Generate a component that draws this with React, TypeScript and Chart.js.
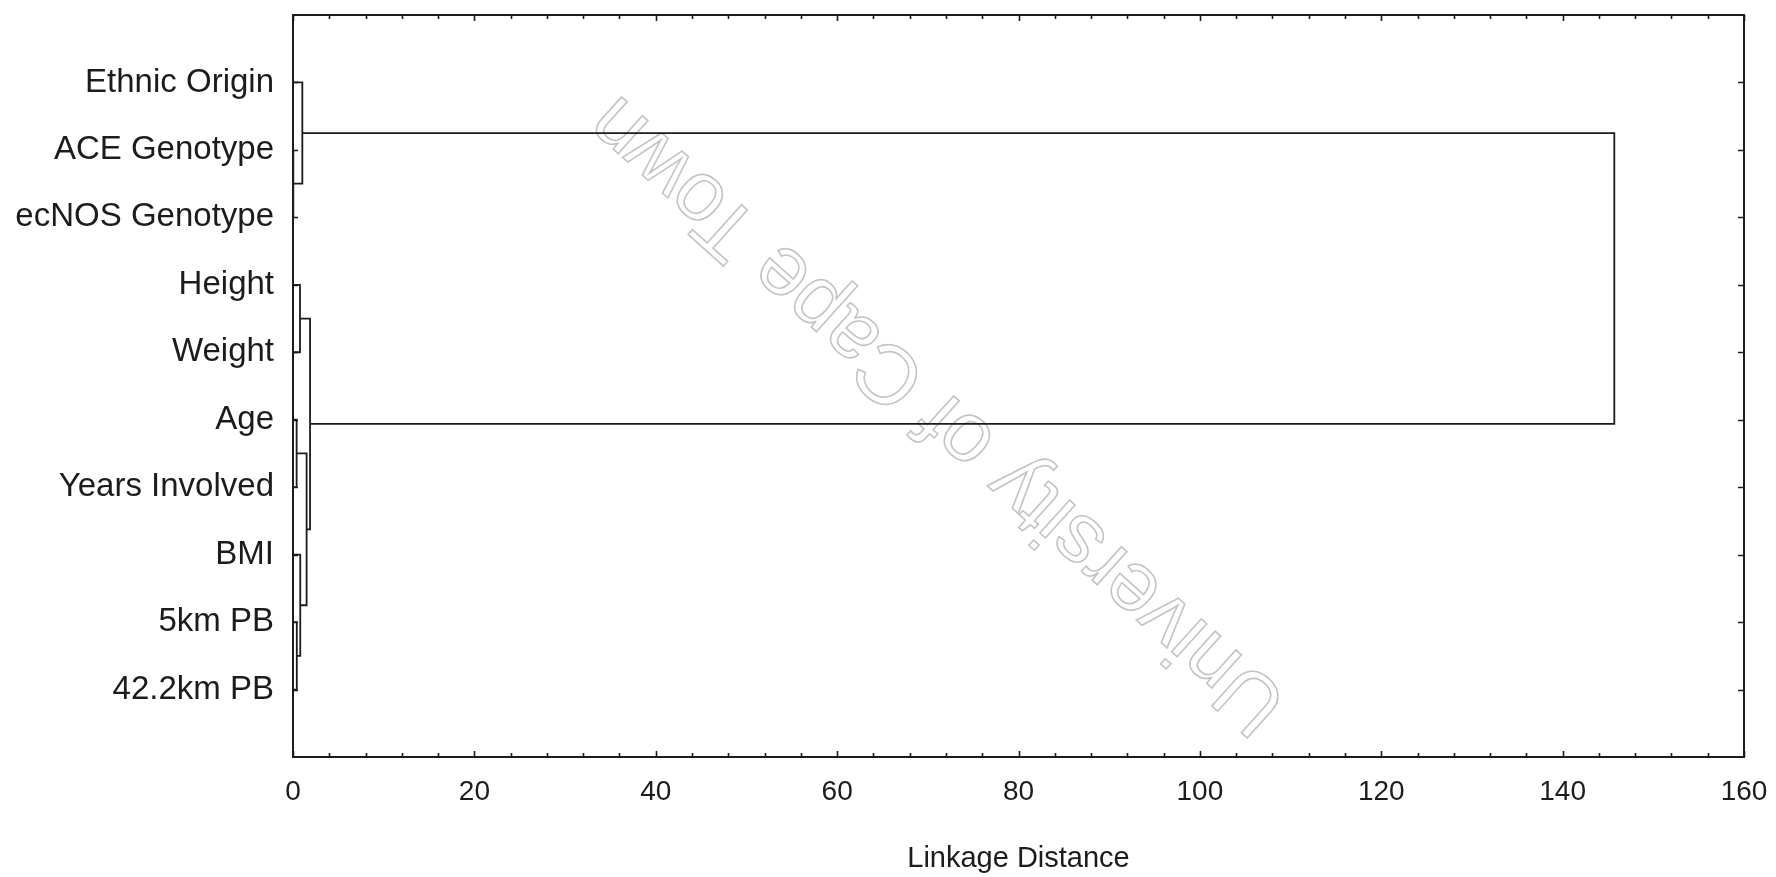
import React, { useEffect, useRef } from 'react';
import { Chart, registerables } from 'chart.js';

Chart.register(...registerables);

// Variables (rows of the tree diagram, top to bottom)
const variableLabels = [
  'Ethnic Origin',
  'ACE Genotype',
  'ecNOS Genotype',
  'Height',
  'Weight',
  'Age',
  'Years Involved',
  'BMI',
  '5km PB',
  '42.2km PB',
];

// Amalgamation schedule: ids 0-9 are the variables, merge k creates cluster id 10 + k
const mergeFirst = [1, 8, 5, 3, 7, 0, 12, 13, 15];
const mergeSecond = [2, 9, 6, 4, 11, 10, 14, 16, 17];
const mergeDistance = [0.05, 0.42, 0.4, 0.77, 0.8, 1.03, 1.5, 1.88, 145.7];

// Axis
const xMin = 0;
const xMax = 160;
const xLabelStep = 20;
const xMinorStep = 4;
const xTitle = 'Linkage Distance';
const watermarkText = 'University of Cape Town';

const FONT = '"Liberation Sans", Arial, Helvetica, sans-serif';
const INK = '#1c1c1c';

function buildDatasets() {
  const nodeY: number[] = variableLabels.map((_, i) => i);
  const nodeH: number[] = variableLabels.map(() => 0);
  return mergeFirst.map((a, k) => {
    const b = mergeSecond[k];
    const d = mergeDistance[k];
    const pts = [
      { x: nodeH[a], y: nodeY[a] },
      { x: d, y: nodeY[a] },
      { x: d, y: nodeY[b] },
      { x: nodeH[b], y: nodeY[b] },
    ];
    nodeY.push((nodeY[a] + nodeY[b]) / 2);
    nodeH.push(d);
    return {
      label: 'merge ' + (k + 1),
      data: pts,
      showLine: true,
      pointRadius: 0,
      pointHoverRadius: 0,
      borderColor: INK,
      borderWidth: 1.8,
      fill: false,
      tension: 0,
    };
  });
}

const framePlugin = {
  id: 'frameAndTicks',
  beforeDatasetsDraw(chart: any) {
    const { ctx, chartArea } = chart;
    const { left, right, top, bottom } = chartArea;
    const w = right - left;
    const h = bottom - top;
    ctx.save();
    ctx.translate(left + w * 0.445, top + h * 0.537);
    ctx.rotate((-138 * Math.PI) / 180);
    ctx.font = '84px ' + FONT;
    ctx.textAlign = 'center';
    ctx.textBaseline = 'middle';
    ctx.strokeStyle = '#c4c4c4';
    ctx.lineWidth = 1.6;
    ctx.strokeText(watermarkText, 0, 0);
    ctx.restore();
  },
  afterDraw(chart: any) {
    const { ctx, chartArea, scales } = chart;
    const { left, right, top, bottom } = chartArea;
    const xs = scales.x;
    const ys = scales.y;
    ctx.save();
    ctx.strokeStyle = INK;
    ctx.lineWidth = 1.6;
    ctx.beginPath();
    for (const t of xs.ticks) {
      const px = Math.round(xs.getPixelForValue(t.value)) + 0.5;
      const len = t.value % xLabelStep === 0 ? 6 : 4;
      ctx.moveTo(px, bottom);
      ctx.lineTo(px, bottom - len);
      ctx.moveTo(px, top);
      ctx.lineTo(px, top + len);
    }
    for (let i = 0; i < variableLabels.length; i++) {
      const py = Math.round(ys.getPixelForValue(i)) + 0.5;
      ctx.moveTo(left, py);
      ctx.lineTo(left + 5, py);
      ctx.moveTo(right, py);
      ctx.lineTo(right - 6, py);
    }
    ctx.stroke();
    ctx.lineWidth = 2;
    ctx.strokeRect(left, top, right - left, bottom - top);
    ctx.restore();
  },
};

function clearScalePadding(scale: any) {
  scale.paddingTop = 0;
  scale.paddingBottom = 0;
  scale.paddingLeft = 0;
  scale.paddingRight = 0;
}

export default function App() {
  const canvasRef = useRef<HTMLCanvasElement | null>(null);

  useEffect(() => {
    const canvas = canvasRef.current;
    if (!canvas) return;
    const chart = new Chart(canvas, {
      type: 'scatter',
      data: { datasets: buildDatasets() as any },
      options: {
        responsive: false,
        animation: false,
        events: [],
        layout: { padding: { top: 15, right: 32, bottom: 0, left: 0 } },
        plugins: {
          legend: { display: false },
          tooltip: { enabled: false },
        },
        scales: {
          x: {
            type: 'linear',
            min: xMin,
            max: xMax,
            afterFit(scale: any) {
              scale.height = 120;
              clearScalePadding(scale);
            },
            grid: { display: false, drawTicks: false },
            border: { display: false },
            ticks: {
              stepSize: xMinorStep,
              autoSkip: false,
              maxRotation: 0,
              padding: 18,
              color: INK,
              font: { family: FONT, size: 28 },
              callback: (v: any) => (Number(v) % xLabelStep === 0 ? String(v) : ''),
            },
            title: {
              display: true,
              text: xTitle,
              color: INK,
              font: { family: FONT, size: 29 },
              padding: { top: 0, bottom: 1 },
            },
          },
          y: {
            type: 'linear',
            min: -1,
            max: variableLabels.length,
            reverse: true,
            afterFit(scale: any) {
              scale.width = 293;
              clearScalePadding(scale);
            },
            grid: { display: false, drawTicks: false },
            border: { display: false },
            ticks: {
              stepSize: 1,
              autoSkip: false,
              padding: 19,
              color: INK,
              font: { family: FONT, size: 33 },
              callback: (v: any) => variableLabels[Number(v)] ?? '',
            },
          },
        },
      },
      plugins: [framePlugin],
    });
    return () => chart.destroy();
  }, []);

  return (
    <canvas
      ref={canvasRef}
      width={1776}
      height={877}
      style={{ position: 'fixed', left: 0, top: 0, display: 'block', background: '#fff' }}
    />
  );
}
